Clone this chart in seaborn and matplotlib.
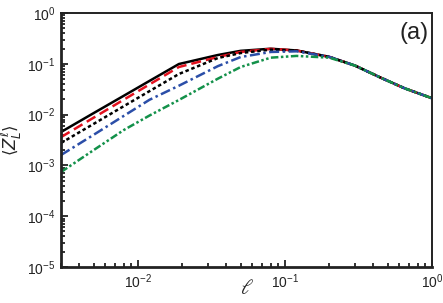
import numpy as np
import pandas as pd
import seaborn as sns
import matplotlib
matplotlib.use("Agg")
import matplotlib.pyplot as plt
from matplotlib.ticker import LogLocator, NullFormatter

ell = [0.003, 0.005, 0.008, 0.012, 0.019, 0.035, 0.05, 0.08, 0.12, 0.2, 0.3, 0.45, 0.65, 1.0]

solid_black = [0.00454, 0.0107, 0.0234, 0.0461, 0.099, 0.149, 0.180, 0.198, 0.183, 0.137, 0.092, 0.053, 0.033, 0.021]
red_dashed = [0.0036, 0.0087, 0.0196, 0.0393, 0.0865, 0.136, 0.171, 0.197, 0.183, 0.137, 0.092, 0.053, 0.033, 0.021]
black_dotted = [0.00276, 0.00656, 0.0146, 0.029, 0.063, 0.130, 0.163, 0.190, 0.182, 0.137, 0.092, 0.053, 0.033, 0.021]
blue_dashdot = [0.0016, 0.0040, 0.0094, 0.0196, 0.037, 0.090, 0.136, 0.171, 0.176, 0.137, 0.092, 0.053, 0.033, 0.021]
green_dashdotdot = [0.00074, 0.0020, 0.00495, 0.0096, 0.0194, 0.051, 0.0865, 0.132, 0.143, 0.132, 0.092, 0.053, 0.033, 0.021]

series = {
    "s1": solid_black,
    "s2": red_dashed,
    "s3": black_dotted,
    "s4": blue_dashdot,
    "s5": green_dashdotdot,
}
styles = {
    "s1": dict(color="#000000", dashes=None),
    "s2": dict(color="#e3121f", dashes=(4, 2)),
    "s3": dict(color="#000000", dashes=(1.4, 1.1)),
    "s4": dict(color="#2b4ea8", dashes=(4, 1.4, 1, 1.4)),
    "s5": dict(color="#13914a", dashes=(3, 1, 1, 1, 1, 1)),
}

sns.set_theme(style="ticks")
plt.rcParams["font.family"] = ["Liberation Sans", "DejaVu Sans"]
plt.rcParams["mathtext.fontset"] = "custom"
plt.rcParams["mathtext.rm"] = "Liberation Sans"
plt.rcParams["mathtext.it"] = "Liberation Sans:italic"

fig = plt.figure(figsize=(4.43, 3.03), dpi=100)
ax = fig.add_axes([61 / 443, 1 - 267 / 303, (432 - 61) / 443, (267 - 13) / 303])

for name, vals in series.items():
    df = pd.DataFrame({"ell": ell, "Z": vals})
    st = styles[name]
    sns.lineplot(data=df, x="ell", y="Z", ax=ax, color=st["color"], lw=1.8)
    l = ax.get_lines()[-1]
    if st["dashes"] is not None:
        l.set_dashes(st["dashes"])

ax.set_xscale("log")
ax.set_yscale("log")
ax.set_xlim(0.003, 1.0)
ax.set_ylim(1e-5, 1.0)

ax.xaxis.set_major_locator(LogLocator(base=10, numticks=10))
ax.xaxis.set_minor_locator(LogLocator(base=10, subs=np.arange(2, 10), numticks=20))
ax.yaxis.set_major_locator(LogLocator(base=10, numticks=10))
ax.yaxis.set_minor_locator(LogLocator(base=10, subs=np.arange(2, 10), numticks=20))
ax.xaxis.set_minor_formatter(NullFormatter())
ax.yaxis.set_minor_formatter(NullFormatter())

ax.tick_params(which="both", direction="in", top=False, right=False, width=1.3, colors="#222222", labelcolor="#222222")
ax.tick_params(which="major", length=5, labelsize=10, pad=4)
ax.tick_params(which="minor", length=3)
for s in ax.spines.values():
    s.set_linewidth(1.4)
    s.set_color("#222222")
ax.spines["left"].set_linewidth(2.0)
ax.spines["bottom"].set_linewidth(2.0)

ax.set_xlabel("")
ax.text(0.5, -21 / 254, r"$\ell$", transform=ax.transAxes, ha="center", va="center",
        fontsize=15, math_fontfamily="dejavuserif", color="#222222")
ax.set_ylabel(r"$\langle Z^{\ell}_{L}\rangle$", fontsize=12, labelpad=2, math_fontfamily="dejavusans")
ax.text(0.99, 0.92, "(a)", transform=ax.transAxes, ha="right", va="center", fontsize=17, color="#222222")

fig.savefig("out.png", dpi=100)
